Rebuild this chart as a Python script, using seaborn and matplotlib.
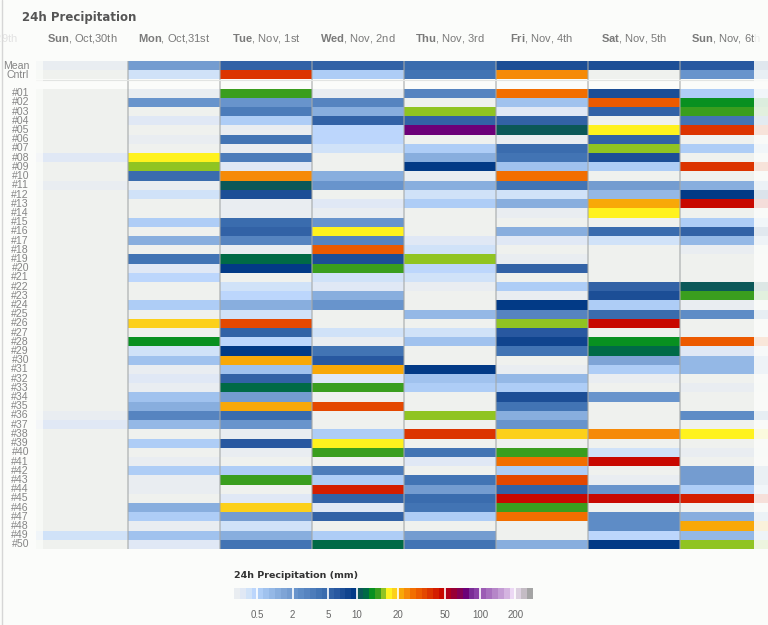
import matplotlib
matplotlib.use('Agg')
from matplotlib import pyplot as plt
import matplotlib.transforms as mtrans
import matplotlib.ticker as plticker
from matplotlib.colors import ListedColormap, BoundaryNorm
from matplotlib.patches import Rectangle
from matplotlib.lines import Line2D
import matplotlib as mpl
import seaborn as sns
import pandas as pd
import numpy as np

# ---- data (mm / 24h) ----
rows = ['Mean', 'Cntrl', ''] + ['#{:02d}'.format(i) for i in range(1, 51)]

headers = [r'$\mathbf{Sun}$, Oct,30th', r'$\mathbf{Mon}$, Oct,31st', r'$\mathbf{Tue}$, Nov, 1st',
           r'$\mathbf{Wed}$, Nov, 2nd', r'$\mathbf{Thu}$, Nov, 3rd', r'$\mathbf{Fri}$, Nov, 4th',
           r'$\mathbf{Sat}$, Nov, 5th', r'$\mathbf{Sun}$, Nov, 6th']
prev_header = r'$\mathbf{Sat}$, Oct,29th'

# mean, control, then members #01..#50
sun30_mean, sun30_cntrl = 0.07, 0
sun30 = [0, 0, 0, 0, 0, 0, 0, 0.15, 0, 0, 0.07, 0, 0, 0, 0, 0, 0, 0, 0, 0,
         0, 0, 0, 0, 0, 0, 0, 0, 0, 0, 0, 0, 0, 0, 0, 0.07, 0.15, 0, 0, 0,
         0, 0, 0, 0, 0, 0, 0, 0, 0.25, 0]
mon31_mean, mon31_cntrl = 1.8, 0.25
mon31 = [0.07, 2.2, 0, 0.15, 0, 0.07, 0, 17.5, 15.5, 4.7, 0.07, 0.25, 0, 0, 0.6, 0, 1.3, 0, 4.2, 0.15,
         0.4, 0, 0, 0.6, 0, 19, 0, 13.5, 0.25, 0.9, 0.07, 0.15, 0.07, 0.9, 1.3, 3.2, 1.1, 0, 0.6, 0,
         0.07, 0.6, 0.07, 0.07, 0, 1.3, 0.7, 0.07, 0.9, 0.15]
tue01_mean, tue01_cntrl = 5.5, 37
tue01 = [14.5, 2.2, 3.7, 0.6, 0.07, 4.2, 0.07, 3.7, 0.15, 23.5, 11, 7.5, 0.07, 0.07, 4.7, 5.5, 3.2, 0.07, 12, 9.5,
         0, 0.25, 0.4, 1.3, 0.25, 32, 5.5, 0.4, 9.5, 21, 0.9, 5.5, 12.5, 1.8, 21, 4.7, 2.2, 0.07, 6.5, 0.07,
         0, 0.6, 14.5, 0, 0.15, 19, 1.8, 0.25, 1.3, 4.2]
wed02_mean, wed02_cntrl = 5.5, 0.6
wed02 = [0.07, 3.2, 1.4, 5.5, 0.4, 0.4, 0.25, 0, 0, 1.4, 2.2, 0, 0.15, 0.07, 2.2, 17.5, 3.2, 29, 7.5, 14.5,
         0.25, 0.15, 1.3, 2.2, 0, 0, 0.25, 0.07, 4.2, 6.5, 21, 0.15, 14.5, 0, 32, 0, 0, 0.6, 17.5, 14.5,
         0, 3.7, 0.6, 41, 5.5, 0.15, 5.5, 0, 0.6, 12.5]
thu03_mean, thu03_cntrl = 4.7, 4.2
thu03 = [3.2, 0, 15.5, 5.5, 77, 0, 0.6, 1.3, 9.5, 0.07, 1.3, 0.25, 0.6, 0, 0, 0, 0.15, 0.25, 15.5, 0.4,
         0.25, 0.07, 0, 0, 1.1, 0, 0.25, 0.9, 0, 0, 9.5, 0.8, 0.6, 0, 0, 15.5, 0, 38, 0, 4.2,
         0.15, 0, 4.2, 1.8, 4.7, 4.2, 0.6, 0, 1.8, 4.2]
fri04_mean, fri04_cntrl = 7, 23.5
fri04 = [27, 0.8, 0.15, 5.5, 11, 0.07, 4.7, 4.2, 0.9, 26, 4.2, 0.25, 1.4, 0.07, 0, 1.3, 0.15, 0, 0.07, 5.5,
         0, 0.6, 0.07, 9, 3.2, 15.5, 6.5, 8.5, 4.2, 0, 0.07, 1.1, 0.7, 7, 4.2, 1.3, 2.2, 19, 0, 14.5,
         26, 0.6, 32, 5.5, 47, 14.5, 26, 0, 0, 1.4]
sat05_mean, sat05_cntrl = 7, 0
sat05 = [7.5, 29, 5.5, 0, 17.5, 5.5, 15.5, 7.5, 0.6, 0, 1.8, 1.1, 21, 17.5, 0, 4.7, 0.25, 0, 0, 0,
         0, 5.5, 7.5, 0.6, 4.7, 47, 0, 13.5, 12, 1.6, 0.6, 0.07, 0, 2.2, 0, 0, 0, 23.5, 0, 0.25,
         47, 0, 0.07, 2.2, 47, 0, 2.7, 2.7, 0.4, 9.5]
sun06_mean, sun06_cntrl = 6.5, 2.2
sun06 = [0.6, 13.5, 14.5, 4.2, 37, 0, 0.6, 0, 38, 0, 1.3, 9.5, 47, 0, 0.6, 5.5, 1.1, 0.07, 0, 0,
         0, 11, 14.5, 0.07, 2.7, 0, 0, 29, 0.15, 1.1, 1.1, 0, 0.07, 0, 0, 2.7, 0, 17.5, 0, 0.07,
         0, 1.8, 1.8, 0.6, 41, 0, 1.3, 21, 1.1, 15.5]

# colour scale of the legend
levels = [0.05, 0.1, 0.2, 0.3, 0.5,
          0.75, 1, 1.25, 1.5, 1.75, 2,
          2.5, 3, 3.5, 4, 4.5, 5,
          6, 7, 8, 9, 10,
          11.5, 13, 14, 15, 16.5, 18.5, 20,
          22.5, 25, 27.5, 30, 35, 40, 45, 50,
          60, 70, 75, 80, 90, 100,
          120, 140, 150, 160, 180, 200,
          250, 300, 400]
colors = ['#e9edf1', '#e0e8f5', '#d0e2f8', '#bcd6fc',
          '#aecdf6', '#a0c2ee', '#94b8e6', '#88aede', '#7ea4d6', '#749cd0',
          '#6894cc', '#5e8cc6', '#5684c0', '#4c7cba', '#4274b4', '#3a6cae',
          '#3262a6', '#2858a0', '#1c4e96', '#10448e', '#023a86',
          '#0b5858', '#006a46', '#089020', '#3a9e1e', '#90c422', '#fff21e', '#fcd01a',
          '#f8a808', '#f68a08', '#f26e00', '#ec5a00', '#e44800', '#dc3400', '#d41e00', '#c80800',
          '#b0001c', '#980034', '#840054', '#6c0078', '#7a2c96', '#8a40a6',
          '#9c5cb4', '#a870be', '#b686c8', '#c49cd4', '#d4b4e0', '#ecd8f4',
          '#dcd0e0', '#c4bcc4', '#a4a4a4']
cbar_ticks = [0.5, 2, 5, 10, 20, 50, 100, 200]
cbar_ticklabels = ['0.5', '2', '5', '10', '20', '50', '100', '200']

bg = '#fbfcfa'
W, H = 768., 625.


def column(mean, cntrl, members):
    return [mean, cntrl, np.nan] + members


df = pd.DataFrame({
    'sun30': column(sun30_mean, sun30_cntrl, sun30),
    'mon31': column(mon31_mean, mon31_cntrl, mon31),
    'tue01': column(tue01_mean, tue01_cntrl, tue01),
    'wed02': column(wed02_mean, wed02_cntrl, wed02),
    'thu03': column(thu03_mean, thu03_cntrl, thu03),
    'fri04': column(fri04_mean, fri04_cntrl, fri04),
    'sat05': column(sat05_mean, sat05_cntrl, sat05),
    'sun06': column(sun06_mean, sun06_cntrl, sun06),
}, index=rows)

sns.set_theme(style='white')
plt.rcParams['font.family'] = ['Liberation Sans', 'DejaVu Sans']
plt.rcParams['mathtext.fontset'] = 'custom'
plt.rcParams['mathtext.rm'] = 'Liberation Sans'
plt.rcParams['mathtext.bf'] = 'Liberation Sans:bold'

cmap = ListedColormap(colors).with_extremes(under='#eff1ee')
norm = BoundaryNorm(levels, ncolors=len(colors))

fig = plt.figure(figsize=(W / 100, H / 100), dpi=100, facecolor=bg)
# heatmap runs past the right edge of the figure (scrolling timeline)
ax = fig.add_axes([36 / W, 1 - 549 / H, 736 / W, 488 / H])
ax.set_facecolor(bg)

sns.heatmap(df, ax=ax, cmap=cmap, norm=norm, cbar=False, mask=df.isna(),
            xticklabels=False, yticklabels=rows)
ax.tick_params(axis='y', length=0, pad=5, labelsize=7.6, labelcolor='#858585', labelrotation=0)
ax.tick_params(axis='x', length=0)
ax.set_xlabel('')
ax.set_ylabel('')

# day separators
for x in range(1, 8):
    ax.axvline(x, color='#a4a8a8', lw=1.1, alpha=0.7)
ax.axhline(2.05, color='#e2e4e2', lw=0.8)

# day headers, bold weekday
hdr_tr = mtrans.blended_transform_factory(ax.transData, ax.transAxes)
for i, h in enumerate(headers):
    ax.text(i + 0.5, 1 + 22 / 488, h, transform=hdr_tr, ha='center', va='center',
            fontsize=8, color='#7a7a7a', clip_on=False)
ax.text(-0.56, 1 + 22 / 488, prev_header, transform=hdr_tr, ha='center', va='center',
        fontsize=8, color='#e2e2e2', clip_on=False)

# faded edges of the scrolled timeline
fig.add_artist(Rectangle((36 / W, 1 - 549 / H), 7 / W, 488 / H, transform=fig.transFigure,
                         facecolor=bg, edgecolor='none', alpha=0.75, zorder=5))
fig.add_artist(Rectangle((754 / W, 1 - 549 / H), 20 / W, 520 / H, transform=fig.transFigure,
                         facecolor=bg, edgecolor='none', alpha=0.88, zorder=5))
fig.add_artist(Line2D([1.5 / W, 1.5 / W], [0, 1], transform=fig.transFigure,
                      color='#d6d6d6', lw=1))

fig.text(22 / W, 1 - 17 / H, '24h Precipitation', fontsize=8.5, fontweight='bold',
         color='#555555', va='center', ha='left', family='DejaVu Sans')

# legend
cax = fig.add_axes([234 / W, 1 - 599 / H, 299 / W, 11 / H])
sm = mpl.cm.ScalarMappable(norm=norm, cmap=cmap)
cb = fig.colorbar(sm, cax=cax, orientation='horizontal', spacing='uniform')
cb.set_ticks(cbar_ticks, labels=cbar_ticklabels)
cax.xaxis.set_minor_locator(plticker.NullLocator())
cb.outline.set_visible(False)
cax.tick_params(which='both', length=0, labelsize=7, labelcolor='#666666', pad=8)
for v in cbar_ticks:
    cax.axvline(v, color='white', lw=1.2)
fig.text(234 / W, 1 - 575 / H, '24h Precipitation (mm)', fontsize=6.8, fontweight='bold',
         color='#333333', va='center', ha='left', family='DejaVu Sans')

fig.savefig('out.png', dpi=100, facecolor=bg)
